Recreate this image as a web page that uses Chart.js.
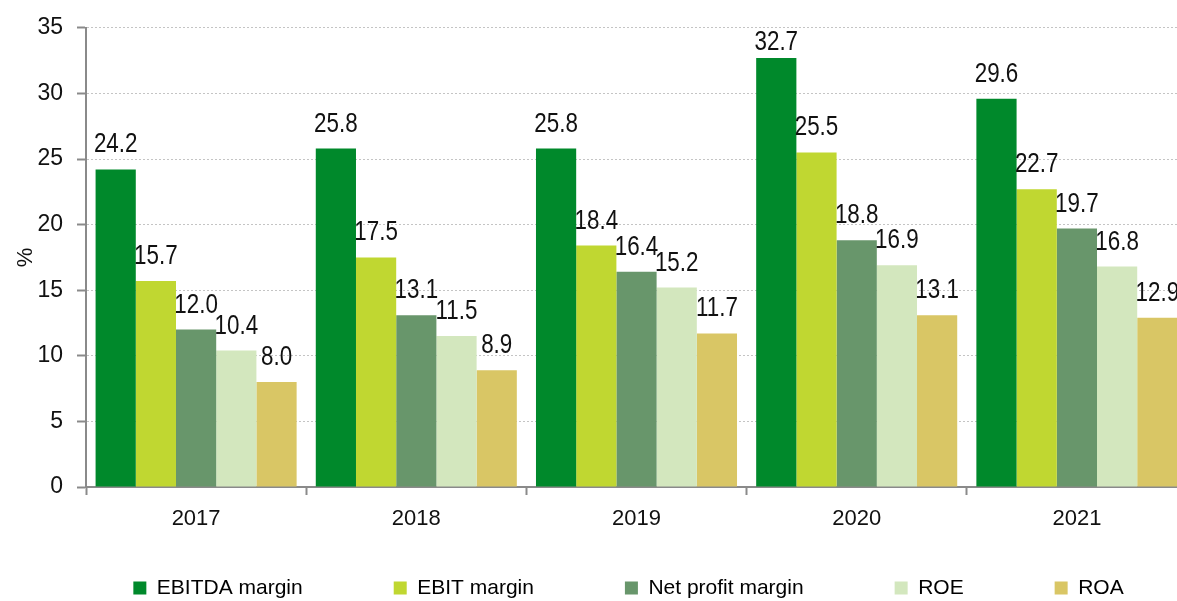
<!DOCTYPE html>
<html>
<head>
<meta charset="utf-8">
<script src="https://cdn.jsdelivr.net/npm/chart.js@4/dist/chart.umd.min.js"></script>
<style>
  html, body { margin: 0; padding: 0; background: #fff; }
  #wrap { width: 1177px; height: 601px; overflow: hidden; position: relative; }
  canvas { display: block; }
</style>
</head>
<body>
<div id="wrap"><canvas id="c" width="1190" height="601"></canvas></div>
<script>
const categories = ['2017', '2018', '2019', '2020', '2021'];
const seriesNames = ['EBITDA margin', 'EBIT margin', 'Net profit margin', 'ROE', 'ROA'];
const ebitdaMargin = [24.2, 25.8, 25.8, 32.7, 29.6];
const ebitMargin   = [15.7, 17.5, 18.4, 25.5, 22.7];
const netProfitMargin = [12.0, 13.1, 16.4, 18.8, 19.7];
const roe = [10.4, 11.5, 15.2, 16.9, 16.8];
const roa = [8.0, 8.9, 11.7, 13.1, 12.9];
const yTicks = [0, 5, 10, 15, 20, 25, 30, 35];

const seriesColors = ['#00892B', '#C0D731', '#68966B', '#D3E7BE', '#D9C665'];
const seriesValues = [ebitdaMargin, ebitMargin, netProfitMargin, roe, roa];

const FONT = "'Liberation Sans', Arial, sans-serif";
const LEGEND_PAD = 91;
const LEGEND_FONT = 21;
const LABEL_SIZE = 28;

// value labels above each bar (text squeezed horizontally like the original),
// kept inside the plot area like the original's "outside end" labels
const valueLabels = {
  id: 'valueLabels',
  afterDatasetsDraw(chart) {
    const ctx = chart.ctx;
    const capH = LABEL_SIZE * 0.716;
    const minBaseline = chart.chartArea.top + 2 + capH;
    chart.data.datasets.forEach((ds, di) => {
      const meta = chart.getDatasetMeta(di);
      meta.data.forEach((bar, i) => {
        const baseline = Math.max(bar.y - 17, minBaseline);
        ctx.save();
        ctx.font = LABEL_SIZE + 'px ' + FONT;
        ctx.fillStyle = '#111';
        ctx.textAlign = 'center';
        ctx.textBaseline = 'alphabetic';
        ctx.translate(bar.x, baseline);
        ctx.scale(0.8, 1);
        ctx.fillText(ds.data[i].toFixed(1), 0, 0);
        ctx.restore();
      });
    });
  }
};

// place the legend row like the original (wide gaps, centred slightly right)
const legendPlacement = {
  id: 'legendPlacement',
  afterLayout(chart) {
    const lg = chart.legend;
    if (!lg) return;
    const itemH = Math.max(13, LEGEND_FONT * 1.2);
    const shift = 628.5 - (lg.left + lg.right) / 2;
    lg.left += shift;
    lg.right += shift;
    lg.top = 590 - LEGEND_PAD - itemH / 2;
  }
};

new Chart(document.getElementById('c'), {
  type: 'bar',
  data: {
    labels: categories,
    datasets: seriesNames.map((n, i) => ({
      label: n,
      data: seriesValues[i],
      backgroundColor: seriesColors[i],
      borderWidth: 0,
      categoryPercentage: 0.913,
      barPercentage: 1.0
    }))
  },
  options: {
    responsive: false,
    animation: false,
    layout: { padding: { left: 0, right: 3, top: 26, bottom: 0 } },
    plugins: {
      tooltip: { enabled: false },
      legend: {
        position: 'bottom',
        maxHeight: 40,
        labels: {
          boxWidth: 13,
          boxHeight: 13,
          padding: LEGEND_PAD,
          color: '#000',
          font: { family: FONT, size: LEGEND_FONT }
        }
      }
    },
    scales: {
      x: {
        grid: {
          display: true,
          drawOnChartArea: false,
          drawTicks: true,
          tickLength: 8,
          tickColor: '#8a8a8a',
          tickWidth: 2,
          offset: true
        },
        border: { display: true, color: '#8a8a8a', width: 2 },
        ticks: { color: '#111', font: { family: FONT, size: 22 }, padding: 11 },
        afterFit(scale) { scale.height = 601 - 40 - 487; }
      },
      y: {
        min: 0,
        max: 35,
        afterBuildTicks(scale) { scale.ticks = yTicks.map(v => ({ value: v })); },
        grid: {
          display: true,
          drawOnChartArea: true,
          drawTicks: true,
          tickLength: 9,
          color: '#c4c4c4',
          lineWidth: 1,
          tickColor: '#8a8a8a',
          tickWidth: 2
        },
        border: { display: true, color: '#8a8a8a', width: 2, dash: [2, 2] },
        ticks: { color: '#111', font: { family: FONT, size: 23 }, padding: 14 },
        title: {
          display: true,
          text: '%',
          color: '#111',
          font: { family: FONT, size: 22 },
          padding: { top: 13, bottom: 0 }
        },
        afterFit(scale) { scale.width = 86; }
      }
    }
  },
  plugins: [valueLabels, legendPlacement]
});
</script>
</body>
</html>
